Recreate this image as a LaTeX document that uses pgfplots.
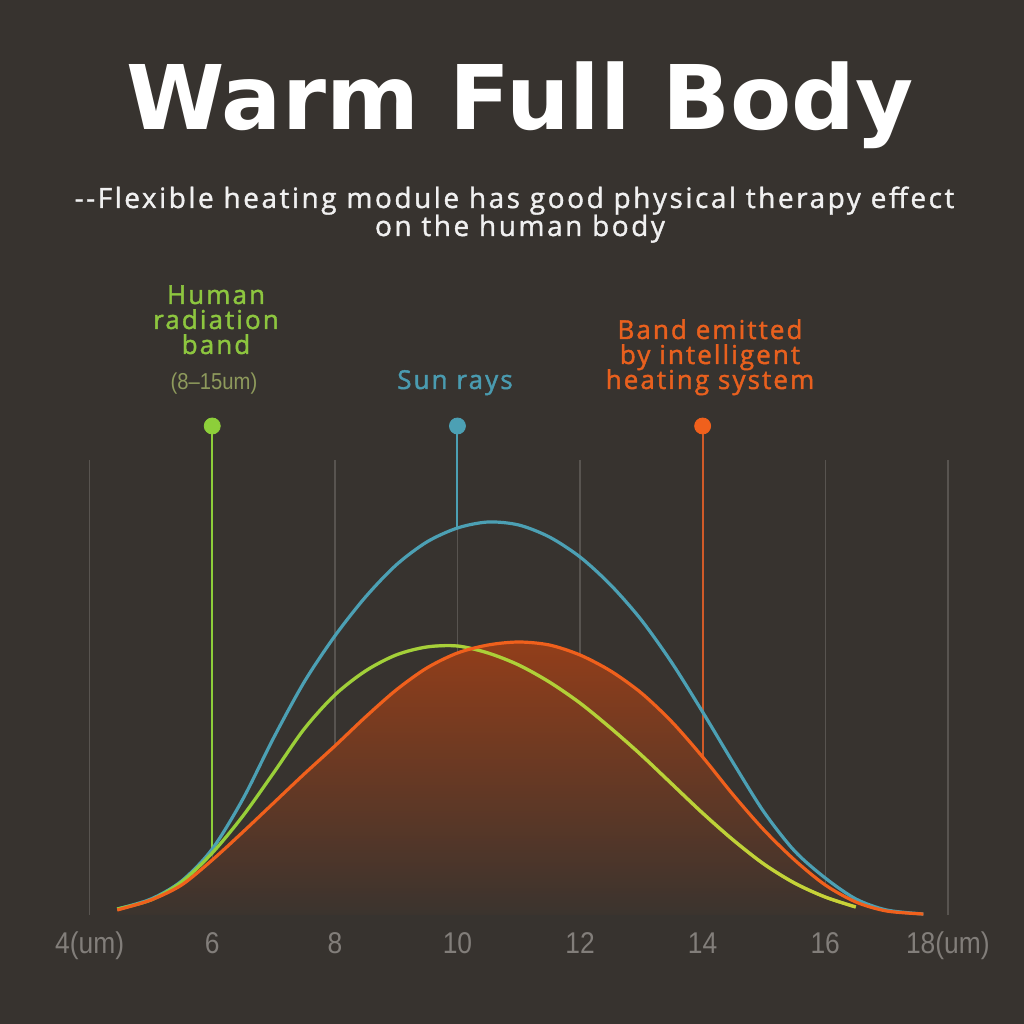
\documentclass[border=0pt]{standalone}
\usepackage{pgfplots}
\pgfplotsset{compat=1.18}
\usepackage{fontspec}
\setmainfont{Liberation Sans}
\newfontfamily\titlefont{DejaVu Sans}
\newfontfamily\subfont[LetterSpace=9,FakeBold=1.3]{Open Sans}
\newfontfamily\labfont[LetterSpace=8,FakeBold=1.6]{Open Sans}
\newfontfamily\tickfont[FakeStretch=0.88]{Liberation Sans}
\usetikzlibrary{fadings}
\definecolor{bg}{RGB}{55,51,47}
\definecolor{gridc}{RGB}{88,84,80}
\definecolor{greenc}{RGB}{141,207,58}
\definecolor{yelc}{RGB}{204,210,56}
\definecolor{bluec}{RGB}{76,160,180}
\definecolor{orangec}{RGB}{240,96,28}
\definecolor{ostem}{RGB}{208,90,40}
\definecolor{filltop}{RGB}{146,62,26}
\definecolor{tickc}{RGB}{130,126,122}
\definecolor{glab}{RGB}{141,198,63}
\definecolor{glab2}{RGB}{142,154,92}
\definecolor{blab}{RGB}{74,155,176}
\definecolor{olab}{RGB}{232,96,30}
\tikzfading[name=greenfade, left color=transparent!100, right color=transparent!0]
\pgfplotstableread{
x     blue  orange
4.45  6     5
5.0   16    15
5.5   34    30
6.0   66    55
6.5   116   83
7.0   177   112
7.5   233   141
8.0   279   169
8.5   318   198
9.0   350   225
9.5   373   247
10.0  387   262
10.5  393   270
11.0  390   273
11.5  378   270
12.0  358   260
12.5  330   244
13.0  295   222
13.5  252   193
14.0  203   158
14.5  152   120
15.0  103   85
15.5  64    55
16.0  37    30
16.5  16    13
17.0  5     4
17.6  1     1
}\bands
\pgfplotstableread{
x     green
4.45  6
5.0   15
5.5   33
6.0   62
6.5   99
7.0   142
7.5   186
8.0   220
8.5   244
9.0   260
9.5   268
10.0  269
10.5  262
11.0  250
11.5  233
12.0  212
12.5  187
13.0  160
13.5  131
14.0  102
14.5  75
15.0  51
15.5  32
16.0  18
16.5  8
}\human
\begin{document}
\begin{tikzpicture}
\fill[bg] (0,0) rectangle (512pt,512pt);
\begin{axis}[
  at={(44.825pt,54.5pt)}, anchor=south west,
  scale only axis, width=429.1pt, height=227.5pt,
  xmin=4, xmax=18, ymin=0, ymax=455,
  clip=false,
  axis line style={draw=none},
  major tick length=0pt,
  ytick=\empty,
  xtick={4,6,8,10,12,14,16,18},
  xticklabels={4(um),6,8,10,12,14,16,18(um)},
  xmajorgrids,
  grid style={gridc, line width=0.75pt},
  xticklabel style={anchor=base, yshift=-19.5pt, inner sep=0pt, text=tickc, font=\tickfont\fontsize{15pt}{18pt}\selectfont},
]
% filled area under the band emitted by the heating system
\addplot[draw=none, smooth, top color=filltop, bottom color=bg!96!filltop, forget plot] table[x=x, y=orange] {\bands} \closedcycle;
% stems
\addplot[greenc, line width=1pt] coordinates {(6,64) (6,489)};
\addplot[bluec, line width=1pt] coordinates {(10,387) (10,489)};
\addplot[ostem, line width=1pt] coordinates {(14,158) (14,489)};
% Sun rays
\addplot[bluec, line width=1.6pt, smooth] table[x=x, y=blue] {\bands};
% Human radiation band
\addplot[greenc, line width=1.6pt, smooth] table[x=x, y=green] {\human};
\addplot[yelc, line width=1.6pt, smooth, path fading=greenfade, fit fading=true] table[x=x, y=green] {\human};
% Band emitted by intelligent heating system
\addplot[orangec, line width=1.6pt, smooth] table[x=x, y=orange] {\bands};
% stem heads
\addplot[only marks, mark=*, mark size=4pt, greenc, mark options={draw=none}] coordinates {(6,489)};
\addplot[only marks, mark=*, mark size=4pt, bluec, mark options={draw=none}] coordinates {(10,489)};
\addplot[only marks, mark=*, mark size=4pt, orangec, mark options={draw=none}] coordinates {(14,489)};
\end{axis}
% title and texts
\node[anchor=base, text=white, font=\titlefont\bfseries\fontsize{44.6pt}{50pt}\selectfont, inner sep=0pt] at (260pt,447pt) {Warm Full Body};
\node[anchor=base, text=white!94!black, font=\subfont\fontsize{14pt}{16pt}\selectfont, inner sep=0pt] at (257.25pt,408pt) {--Flexible heating module has good physical therapy effect};
\node[anchor=base, text=white!94!black, font=\subfont\fontsize{14pt}{16pt}\selectfont, inner sep=0pt] at (260pt,394pt) {on the human body};
\begin{scope}[every node/.style={anchor=base, inner sep=0pt, font=\labfont\fontsize{13pt}{15pt}\selectfont}]
\node[text=glab] at (108pt,360pt) {Human};
\node[text=glab] at (108pt,347.5pt) {radiation};
\node[text=glab] at (108pt,335pt) {band};
\node[text=glab2, font=\tickfont\fontsize{11.5pt}{13pt}\selectfont] at (107pt,317pt) {(8–15um)};
\node[text=blab] at (227.5pt,317.5pt) {Sun rays};
\node[text=olab] at (355pt,342.5pt) {Band emitted};
\node[text=olab] at (355pt,330pt) {by intelligent};
\node[text=olab] at (355pt,317.5pt) {heating system};
\end{scope}
\end{tikzpicture}
\end{document}
